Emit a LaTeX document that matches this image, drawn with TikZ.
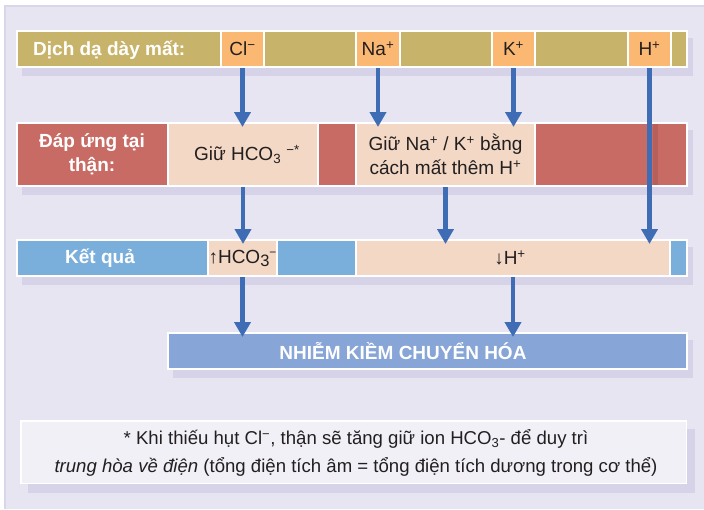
\documentclass[tikz,border=0pt]{standalone}
\usepackage{fontspec}
\setmainfont{Liberation Sans}
\usetikzlibrary{arrows.meta}

\definecolor{panel}{HTML}{E8E5F3}
\definecolor{panelline}{HTML}{D9D5EA}
\definecolor{dropshade}{HTML}{D6D2E8}
\definecolor{redshade}{HTML}{B5605D}
\definecolor{olive}{HTML}{C8B36A}
\definecolor{ionorange}{HTML}{FBB873}
\definecolor{kidred}{HTML}{C86B64}
\definecolor{peach}{HTML}{F2D8C5}
\definecolor{resblue}{HTML}{7AAFDC}
\definecolor{finalblue}{HTML}{87A5D6}
\definecolor{notefill}{HTML}{F1F0F7}
\definecolor{arrowblue}{HTML}{3E6DB5}
\definecolor{ink}{HTML}{231F20}

\newcommand\mainsize{\fontsize{19}{24.5}\selectfont}
\newcommand\notesize{\fontsize{18.6}{27.5}\selectfont}

% coloured cell given by its left, right, top and bottom edges
\newcommand\placecell[8][]{%
  \node[cell, fill=#7, minimum width={#4-#3}, minimum height={#6-#5}, #1]
    (#2) at ({(#3+#4)/2},{(#5+#6)/2}) {#8};}
% white frame of a row with its drop shadow
\newcommand\rowframe[4]{%
  \fill[fill=dropshade] ({#1+6},{#2+8}) rectangle ({#3+5},{#4+8});
  \fill[fill=white] (#1,#2) rectangle (#3,#4);}

\tikzset{
  cell/.style={inner sep=0pt, outer sep=0pt, text=ink, font=\mainsize, align=center},
  lbl/.style={text=white, font=\mainsize\bfseries, inner sep=0pt, align=center},
  arr/.style={draw=arrowblue, line width=4.5pt,
    -{Triangle[width=16pt,length=15pt]}, shorten <=2pt, shorten >=-3pt},
  arrshadow/.style={draw=dropshade, line width=4.5pt,
    -{Triangle[width=16pt,length=15pt]}, shorten <=2pt, shorten >=-3pt,
    xshift=6pt, yshift=-2pt},
}

\begin{document}
\begin{tikzpicture}[x=1pt,y=-1pt]
\useasboundingbox (0,0) rectangle (704,509);

% background panel
\fill[fill=white] (0,0) rectangle (704,509);
\fill[fill=panelline] (4,5) rectangle (704,509);
\fill[fill=panel] (5.5,6.5) rectangle (704,509);

% footnote box with its shadow
\fill[fill=dropshade] (28,429) rectangle (695,493);
\fill[fill=white] (20,420) rectangle (687,484);
\fill[fill=notefill] (21.5,421.5) rectangle (685.5,482.5);

% row 1: gastric losses
\rowframe{16}{30}{688}{68}
\placecell{src}{18}{220}{32}{66}{olive}{}
\placecell{cl}{222}{263}{32}{66}{ionorange}{Cl\textsuperscript{−}}
\placecell{oa}{265}{355}{32}{66}{olive}{}
\placecell{na}{357}{399}{32}{66}{ionorange}{Na\textsuperscript{+}}
\placecell{ob}{401}{491}{32}{66}{olive}{}
\placecell{k}{493}{534}{32}{66}{ionorange}{K\textsuperscript{+}}
\placecell{oc}{536}{627}{32}{66}{olive}{}
\placecell{h}{629}{670}{32}{66}{ionorange}{H\textsuperscript{+}}
\placecell{od}{672}{686}{32}{66}{olive}{}
\node[lbl, anchor=base west] (srctext) at (33,55.5) {Dịch dạ dày mất:};

% row 2: kidney response
\rowframe{16}{122}{688}{187}
\placecell{kid}{18}{167}{124}{185}{kidred}{}
\placecell{gh}{169}{317}{124}{185}{peach}{\hspace*{8pt}Giữ HCO\textsubscript{3} \textsuperscript{−*}}
\placecell{ra}{319}{355}{124}{185}{kidred}{}
\placecell{nak}{357}{534}{124}{185}{peach}{Giữ Na\textsuperscript{+} / K\textsuperscript{+} bằng\\cách mất thêm H\textsuperscript{+}}
\placecell{rb}{536}{686}{124}{185}{kidred}{}
\node[lbl] (kidtext) at (92,154) {Đáp ứng tại\\thận:};

% row 3: result
\rowframe{16}{239}{688}{277}
\placecell{ba}{18}{207}{241}{275}{resblue}{}
\placecell{hco}{209}{276}{241}{275}{peach}{↑HCO\raisebox{-3pt}{\fontsize{16.5}{16}\selectfont 3}\raisebox{6.5pt}{\fontsize{12}{12}\selectfont −}}
\placecell{bb}{278}{355}{241}{275}{resblue}{}
\placecell{hd}{357}{669}{241}{275}{peach}{↓H\textsuperscript{+}\hspace*{6pt}}
\placecell{bc}{671}{686}{241}{275}{resblue}{}
\node[lbl] (restext) at (100,258) {Kết quả};

% row 4: outcome
\rowframe{167}{332}{688}{370}
\placecell{fin}{169}{686}{334}{368}{finalblue}{}
\node[lbl] (fintext) at (403,351) {NHIỄM KIỀM CHUYỂN HÓA};

% footnote text
\node[text=ink, font=\notesize, align=center, inner sep=0pt] (note) at (356,453)
  {* Khi thiếu hụt Cl\textsuperscript{−}, thận sẽ tăng giữ ion HCO\textsubscript{3}- để duy trì\\
   \textit{trung hòa về điện} (tổng điện tích âm = tổng điện tích dương trong cơ thể)};

% arrow shadows, each cut off at the top of its target row
\begin{scope}
  \clip (0,68) rectangle (704,122);
  \draw[arrshadow] (cl.south) -- (cl.south |- gh.north);
  \draw[arrshadow] (na.south) -- (na.south |- nak.north);
  \draw[arrshadow] (k.south) -- (k.south |- nak.north);
  \draw[arrshadow] (h.south) -- (h.south |- hd.north);
\end{scope}
\begin{scope}
  \clip (0,187) rectangle (704,239);
  \draw[arrshadow] (h.south) -- (h.south |- hd.north);
  \draw[arrshadow] (gh.south) -- (gh.south |- hco.north);
  \draw[arrshadow] (nak.south) -- (nak.south |- hd.north);
\end{scope}
\begin{scope}
  \clip (0,277) rectangle (704,332);
  \draw[arrshadow] (hco.south) -- (hco.south |- fin.north);
  \draw[arrshadow] (hd.south) -- (hd.south |- fin.north);
\end{scope}
% shadow of the long H+ arrow where it crosses the kidney row
\fill[fill=redshade] ([xshift=3.75pt]h.south |- rb.north) rectangle ([xshift=8.25pt]h.south |- rb.south);

% arrows
\draw[arr] (cl.south) -- (cl.south |- gh.north);
\draw[arr] (na.south) -- (na.south |- nak.north);
\draw[arr] (k.south) -- (k.south |- nak.north);
\draw[arr] (h.south) -- (h.south |- hd.north);
\draw[arr] (gh.south) -- (gh.south |- hco.north);
\draw[arr] (nak.south) -- (nak.south |- hd.north);
\draw[arr] (hco.south) -- (hco.south |- fin.north);
\draw[arr] (hd.south) -- (hd.south |- fin.north);
\end{tikzpicture}
\end{document}
